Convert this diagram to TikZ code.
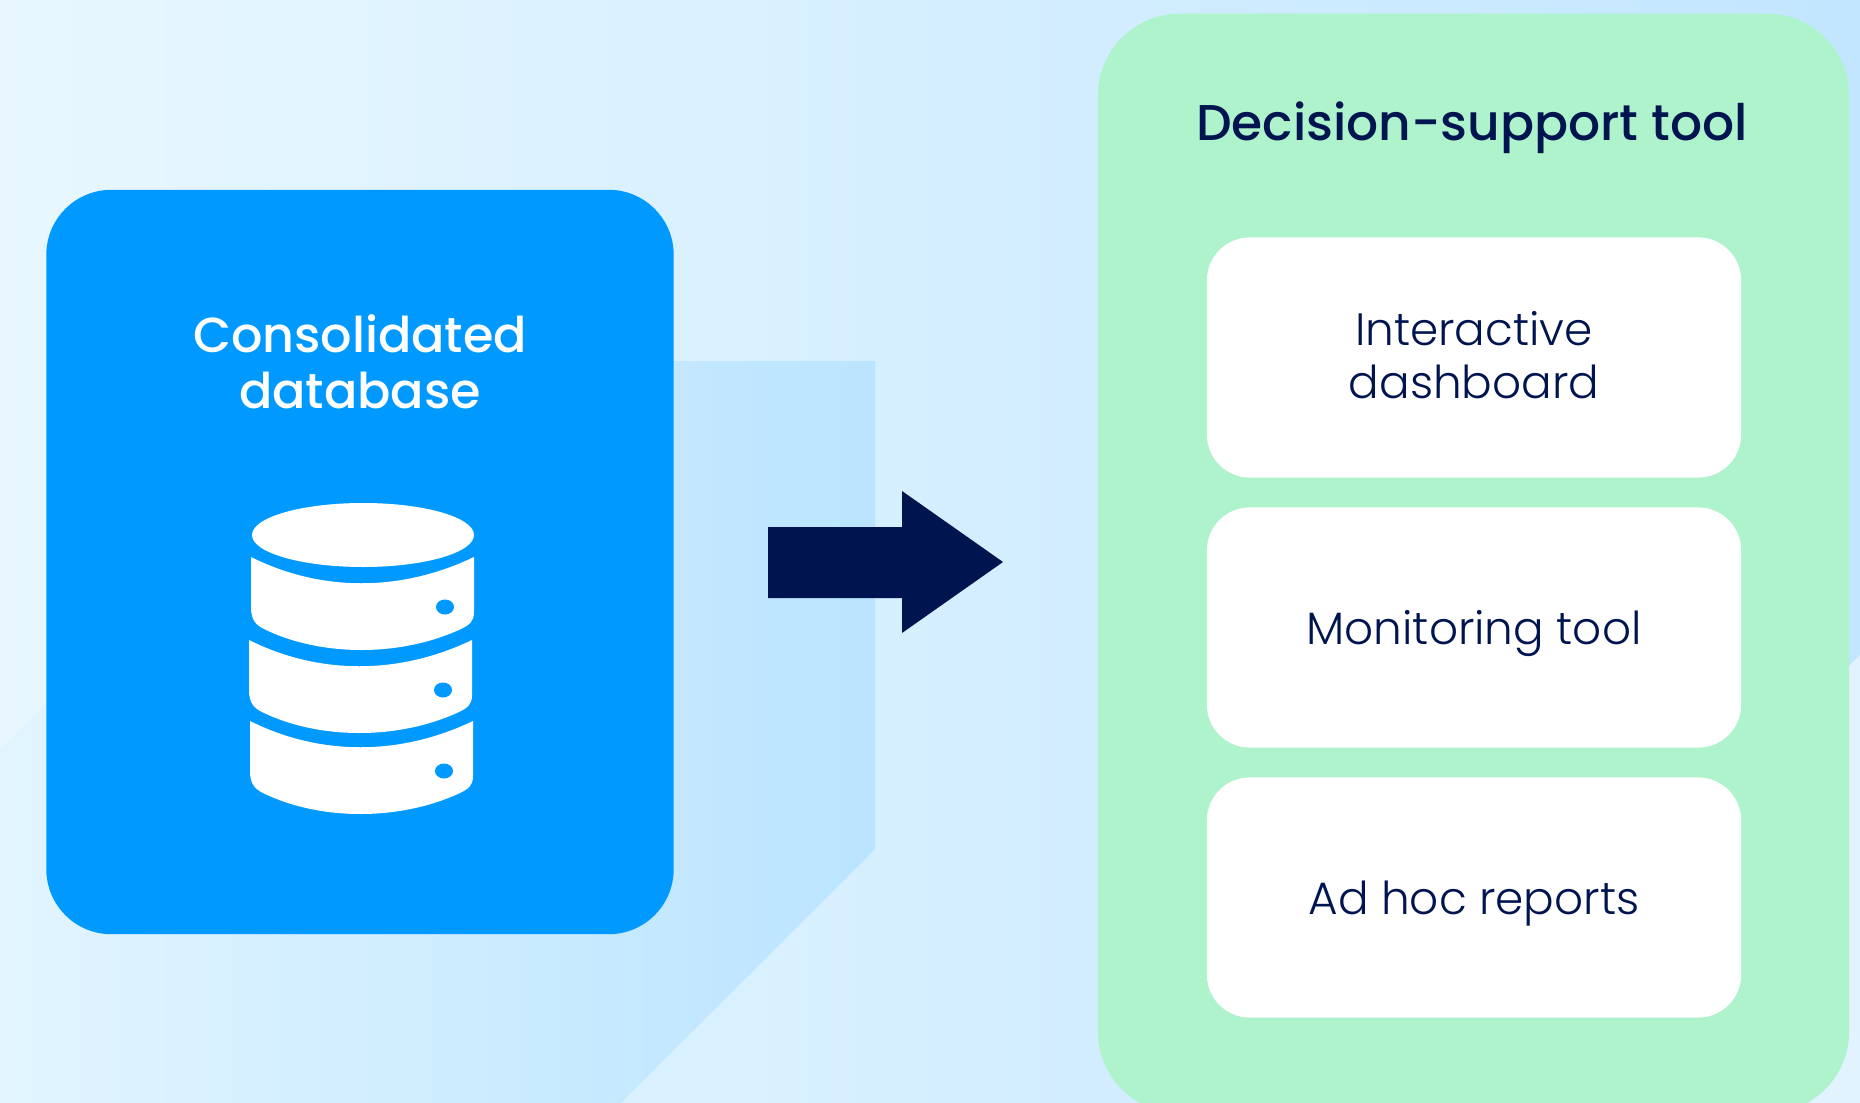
\documentclass[tikz,border=0pt]{standalone}
\usepackage{fontspec}
\usepackage{xcolor}
\setmainfont{Poppins}
\newfontfamily\headfont{Poppins Medium}
\newfontfamily\bodyfont{Poppins Light}
\definecolor{navy}{HTML}{001550}
\definecolor{dbblue}{HTML}{0099FF}
\definecolor{toolgreen}{HTML}{AEF3CC}
\definecolor{bgleft}{HTML}{E8F7FF}
\definecolor{bgright}{HTML}{C2E6FF}
\definecolor{bgcorner}{HTML}{E1F3FE}
\definecolor{bandleft}{HTML}{E2F5FF}
\definecolor{bandright}{HTML}{BAE4FF}
\tikzset{
panel/.style={rounded corners=.43cm, fill=white, text=navy, inner sep=0pt, align=center, minimum width=5.34cm, minimum height=2.4cm, font=\bodyfont\fontsize{12.9}{15.2}\selectfont},
heading/.style={inner sep=0pt, align=center, font=\headfont\fontsize{#1}{16}\selectfont}
}
\newcommand{\paneltext}[2]{\raisebox{#1}[0pt][0pt]{\begin{tabular}{@{}c@{}}#2\end{tabular}}}
\newcommand{\dbslab}[3]{
\fill[white, shift={(#1,#2)}] (0,0) .. controls (70,35) and (150,35) .. (223,0) -- (223,55) .. controls (223,65) and (218,68) .. (210,72) .. controls (150,100) and (70,100) .. (13,72) .. controls (5,68) and (0,63) .. (0,50) -- cycle;
\fill[dbblue] (#3,#2+50) ellipse [x radius=9, y radius=7.5];
}

\begin{document}
\begin{tikzpicture}[x=.01cm, y=-.01cm]
\useasboundingbox (0,0) rectangle (1860,1103);
\clip (0,0) rectangle (1860,1103);
\shade[left color=bgleft, right color=bgright] (0,0) rectangle (1860,1103);
\fill[bgcorner] (1860,655) -- (1412,1103) -- (1860,1103) -- cycle;
\shade[left color=bandleft, right color=bandright] (0,750) -- (389,361) -- (875,361) -- (875,849) -- (621,1103) -- (0,1103) -- cycle;

% left card
\node[rounded corners=.65cm, fill=dbblue, minimum width=6.27cm, minimum height=7.44cm, inner sep=0pt] (database) at (360,562) {};
\node[heading=14, text=white] (databasetitle) at (360,362) {Consolidated\\database};
\fill[white] (363,535) ellipse [x radius=111, y radius=32];
\dbslab{251}{557}{445}
\dbslab{249}{640}{443}
\dbslab{250}{721}{444}

\fill[navy] (768,527) -- (902,527) -- (902,491) -- (1003,562) -- (902,633) -- (902,598) -- (768,598) -- cycle;

% right card
\node[rounded corners=.82cm, fill=toolgreen, minimum width=7.51cm, minimum height=10.99cm, inner sep=0pt] (tool) at (1473.5,563.5) {};
\node[heading=14.3, text=navy] (tooltitle) at (1472,128) {Decision-support tool};
\node[panel] (dashboard) at (1474,357.5) {\paneltext{-4.05pt}{Interactive\\dashboard}};
\node[panel] (monitoring) at (1474,627.5) {\paneltext{-4.9pt}{Monitoring tool}};
\node[panel] (reports) at (1474,897.5) {\paneltext{-4.9pt}{Ad hoc reports}};
\end{tikzpicture}
\end{document}
